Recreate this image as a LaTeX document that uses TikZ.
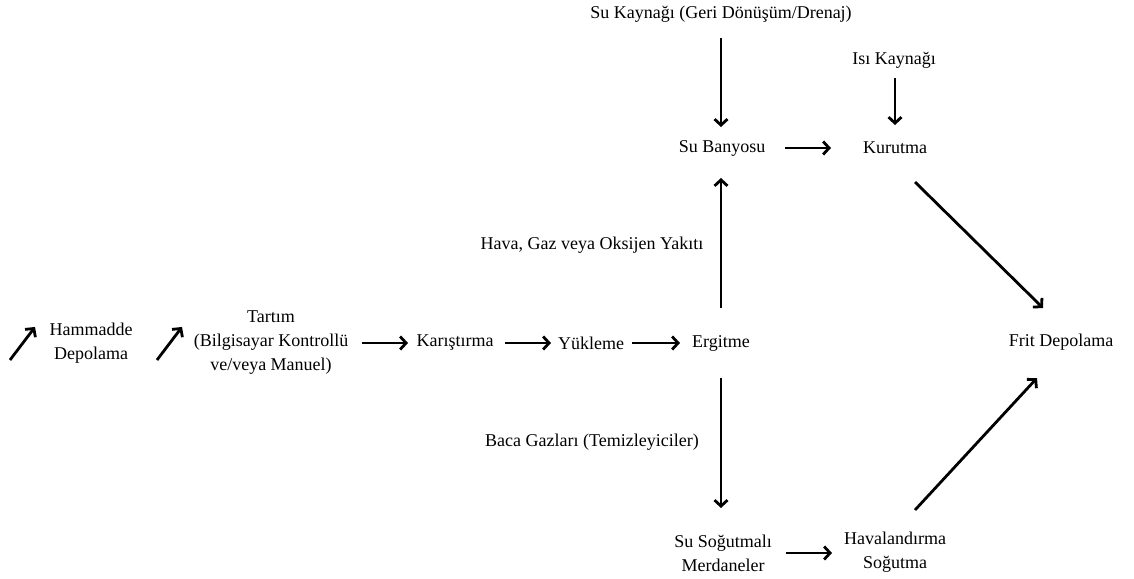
\documentclass[tikz,border=0pt]{standalone}
\usepackage{fontspec}
\setmainfont{Liberation Serif}
\usetikzlibrary{arrows.meta,calc}
\begin{document}
\begin{tikzpicture}[x=1pt,y=-1pt,
  box/.style={align=center,inner sep=0pt,font=\fontsize{18}{24}\selectfont},
  flow/.style={line width=2.8pt,-{Straight Barb[length=6pt,width=13pt,line width=2.8pt]}}]
\useasboundingbox (0,0) rectangle (1134,578);
\node[box] (ham) at (91,343) {Hammadde\\Depolama};
\node[box] (tartim) at (271,343) {Tartım\\(Bilgisayar Kontrollü\\ve/veya Manuel)};
\node[box] (karis) at (455,343) {Karıştırma};
\node[box] (yuk) at (591,343) {Yükleme};
\node[box] (erg) at (721,343) {Ergitme};
\node[box] (subany) at (722,148) {Su Banyosu};
\node[box] (kurut) at (895,148) {Kurutma};
\node[box] (sukay) at (721,14) {Su Kaynağı (Geri Dönüşüm/Drenaj)};
\node[box] (isi) at (894,60) {Isı Kaynağı};
\node[box] (frit) at (1061,342) {Frit Depolama};
\node[box] (sumerd) at (723,553) {Su Soğutmalı\\Merdaneler};
\node[box] (haval) at (895,552) {Havalandırma\\Soğutma};
\node[box] (hava) at (592,245) {Hava, Gaz veya Oksijen Yakıtı};
\node[box] (baca) at (592,442) {Baca Gazları (Temizleyiciler)};
\coordinate (a1) at (10,360); \coordinate (a2) at (35,327);
\coordinate (b1) at (157,360); \coordinate (b2) at (182,327);
\draw[flow] (a1) -- (a2);
\draw[flow] (b1) -- (b2);
\draw[flow,shorten <=91pt,shorten >=47pt] (tartim.center) -- (karis.center);
\draw[flow,shorten <=50pt,shorten >=40pt] (karis.center) -- (yuk.center);
\draw[flow,shorten <=41pt,shorten >=41pt] (yuk.center) -- (erg.center);
\draw[flow,shorten <=35pt,shorten >=30pt] (erg.center) -- (subany.center -| erg.center);
\draw[flow,shorten <=35pt,shorten >=45pt] (erg.center) -- (sumerd.center -| erg.center);
\draw[flow,shorten <=24pt,shorten >=21pt] (sukay.center) -- (subany.center -| sukay.center);
\draw[flow,shorten <=18pt,shorten >=23pt] (isi.center -| kurut.center) -- (kurut.center);
\draw[flow,shorten <=63pt,shorten >=64pt] (subany.center) -- (kurut.center);
\draw[flow,shorten <=63pt,shorten >=63pt] (sumerd.center) -- (haval.center |- sumerd.center);
\draw[flow] ($(kurut)+(20,34)$) -- ($(frit)+(-18,-34)$);
\draw[flow] ($(haval)+(20,-42)$) -- ($(frit)+(-24,36)$);
\end{tikzpicture}
\end{document}
